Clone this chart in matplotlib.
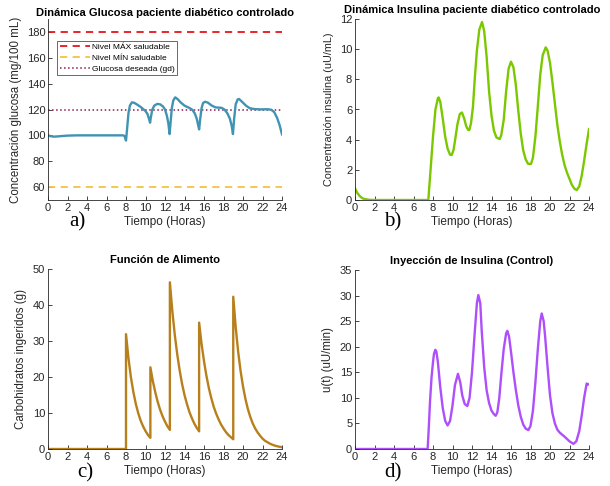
import matplotlib
matplotlib.use("Agg")
import matplotlib.pyplot as plt

plt.rcParams['font.family'] = ['Liberation Sans', 'DejaVu Sans']

# ---------------- data ----------------
t_glu = [0, 0.3, 0.6, 1.0, 1.5, 2.0, 3.0, 5.0, 7.7, 7.85, 8.0, 8.1, 8.25, 8.4, 8.6, 8.8, 9.0, 9.5,
         10.0, 10.2, 10.35, 10.47, 10.55, 10.7, 10.9, 11.2, 11.5, 11.8, 12.0, 12.2, 12.35, 12.47,
         12.55, 12.7, 12.85, 13.05, 13.3, 13.6, 14.0, 14.5, 14.8, 15.05, 15.25, 15.4, 15.5, 15.6,
         15.75, 15.9, 16.1, 16.4, 16.8, 17.2, 17.8, 18.1, 18.4, 18.65, 18.85, 18.97, 19.08, 19.25,
         19.45, 19.6, 19.9, 20.3, 20.7, 21.2, 21.8, 22.5, 22.9, 23.2, 23.5, 23.75, 24.0]
glu = [100, 99.3, 99.0, 99.2, 99.5, 99.8, 100, 100, 100, 99.5, 96, 104, 117, 123, 125.5, 125.3, 124.5, 122,
       118.8, 116.5, 113, 109.8, 114, 120, 123, 124.3, 124, 122.3, 120, 115, 109, 101,
       108, 121, 127, 129.4, 128, 125.5, 123, 121.2, 119.8, 117, 113, 108, 104.6, 112,
       121, 125, 126, 125.3, 123, 121.6, 121.3, 120, 117, 113, 107, 101, 112, 124,
       127.8, 128.1, 126, 123, 121, 120.3, 120.1, 120.2, 119.8, 118, 113.5, 108, 100.8]
glu_max, glu_min, glu_des = 180, 60, 120

t_ins = [0, 0.25, 0.5, 0.75, 1.0, 1.5, 2.0, 7.52, 7.75, 8.0, 8.25, 8.5, 8.58, 8.75, 9.0, 9.25, 9.5,
         9.75, 9.91, 10.1, 10.25, 10.5, 10.75, 10.97, 11.2, 11.4, 11.6, 11.73, 11.9, 12.1, 12.3, 12.5,
         12.75, 13.03, 13.25, 13.5, 13.75, 14.0, 14.25, 14.5, 14.84, 15.0, 15.25, 15.5, 15.75, 16.0,
         16.25, 16.5, 16.75, 17.0, 17.25, 17.5, 17.75, 18.05, 18.25, 18.5, 18.75, 19.0, 19.25, 19.56,
         19.75, 20.0, 20.25, 20.5, 20.75, 21.0, 21.25, 21.5, 21.75, 22.0, 22.25, 22.5, 22.74, 23.0,
         23.25, 23.5, 23.75, 24.0]
ins = [0.77, 0.45, 0.25, 0.12, 0.06, 0.01, 0, 0, 2.0, 4.2, 6.0, 6.75, 6.8, 6.5, 5.4, 4.2, 3.4,
       3.0, 2.98, 3.3, 3.9, 5.0, 5.7, 5.8, 5.4, 4.9, 4.65, 4.64, 5.1, 6.2, 8.2, 9.9,
       11.3, 11.8, 11.2, 9.5, 7.2, 5.6, 4.6, 4.15, 4.04, 4.3, 5.3, 7.2, 8.7, 9.17,
       8.8, 7.6, 5.9, 4.4, 3.3, 2.7, 2.4, 2.39, 2.8, 4.2, 6.2, 8.3, 9.6, 10.12,
       9.9, 9.1, 7.8, 6.4, 5.0, 3.9, 3.0, 2.3, 1.8, 1.4, 1.0, 0.75, 0.66, 0.9,
       1.6, 2.6, 3.7, 4.7]

t_food = [0, 8.0, 8.0, 8.25, 8.5, 8.75, 9.0, 9.25, 9.5, 9.75, 10.0, 10.25, 10.5,
          10.5, 10.75, 11.0, 11.25, 11.5, 11.75, 12.0, 12.25, 12.5,
          12.5, 12.75, 13.0, 13.25, 13.5, 13.75, 14.0, 14.25, 14.5, 14.75, 15.0, 15.25, 15.5,
          15.5, 15.75, 16.0, 16.25, 16.5, 16.75, 17.0, 17.25, 17.5, 17.75, 18.0, 18.25, 18.5, 18.75, 19.0,
          19.0, 19.25, 19.5, 19.75, 20.0, 20.25, 20.5, 20.75, 21.0, 21.25, 21.5, 21.75, 22.0, 22.25,
          22.5, 22.75, 23.0, 23.25, 23.5, 23.75, 24.0]
food = [0, 0, 31.9, 25.3, 20.0, 15.9, 12.6, 10.0, 7.9, 6.3, 5.0, 3.9, 3.1,
        22.7, 18.9, 15.8, 13.1, 10.9, 9.1, 7.6, 6.3, 5.3,
        46.3, 38.4, 31.8, 26.4, 21.9, 18.1, 15.0, 12.5, 10.3, 8.6, 7.1, 5.9, 4.9,
        35.1, 29.2, 24.4, 20.3, 16.9, 14.1, 11.7, 9.8, 8.2, 6.8, 5.7, 4.7, 3.9, 3.3, 2.7,
        42.3, 33.9, 27.1, 21.7, 17.4, 13.9, 11.1, 8.9, 7.1, 5.7, 4.6, 3.7, 2.9, 2.3,
        1.9, 1.5, 1.2, 0.96, 0.77, 0.62, 0.49]

t_u = [0, 7.45, 7.55, 7.7, 7.85, 8.0, 8.1, 8.24, 8.35, 8.5, 8.75, 9.0, 9.25, 9.5, 9.75, 10.0, 10.25,
       10.56, 10.8, 11.0, 11.25, 11.52, 11.75, 12.0, 12.25, 12.5, 12.65, 12.85, 13.0, 13.25, 13.5,
       13.75, 14.0, 14.25, 14.43, 14.6, 14.8, 15.0, 15.25, 15.5, 15.62, 15.8, 16.0, 16.25, 16.5,
       16.75, 17.0, 17.25, 17.5, 17.78, 18.0, 18.25, 18.5, 18.75, 19.0, 19.15, 19.35, 19.5, 19.75,
       20.0, 20.25, 20.5, 20.75, 21.0, 21.5, 22.0, 22.4, 22.7, 23.0, 23.25, 23.5, 23.76, 23.9, 24.0]
u = [0, 0, 3.5, 9.5, 14.0, 17.0, 18.6, 19.4, 19.0, 17.0, 12.0, 8.0, 5.5, 4.6, 5.5, 8.5, 12.5,
     14.7, 13.0, 10.5, 8.8, 8.4, 10.0, 15.0, 22.0, 28.5, 30.1, 28.5, 23.0, 16.0, 11.5,
     9.0, 7.5, 6.8, 6.5, 7.2, 10.0, 14.5, 19.5, 22.6, 23.1, 22.0, 19.0, 15.0, 11.5,
     8.5, 6.3, 4.8, 4.0, 3.7, 4.5, 7.5, 13.0, 19.5, 25.0, 26.5, 25.0, 22.0, 16.0,
     10.5, 7.0, 5.0, 3.8, 3.2, 2.4, 1.5, 1.0, 1.5, 3.5, 6.5, 10.0, 12.8, 12.6, 12.7]

hours = list(range(0, 25, 2))

# ---------------- figure ----------------
fig = plt.figure(figsize=(6.1, 4.86), dpi=100)

W = 234 / 610
pos = {
    'a': [48 / 610, 1 - 200 / 486, W, 181 / 486],
    'b': [355 / 610, 1 - 200 / 486, W, 181 / 486],
    'c': [48 / 610, 1 - 449 / 486, W, 180 / 486],
    'd': [355 / 610, 1 - 449 / 486, W, 179 / 486],
}

tick_col = '#262626'


def style(ax, ylim, yticks):
    ax.set_xlim(0, 24)
    ax.set_ylim(*ylim)
    ax.set_xticks(hours)
    ax.set_yticks(yticks)
    for s in ['top', 'right']:
        ax.spines[s].set_visible(False)
    for s in ['left', 'bottom']:
        ax.spines[s].set_color(tick_col)
        ax.spines[s].set_linewidth(0.6)
    ax.tick_params(direction='in', length=3, width=0.6, labelsize=8,
                   colors=tick_col, pad=2)
    ax.set_xlabel('Tiempo (Horas)', fontsize=8.5, color=tick_col, labelpad=2)


# a) glucose
axa = fig.add_axes(pos['a'])
axa.plot([0, 24], [glu_max, glu_max], '--', color='#e8121a', lw=1.3, dashes=(4, 3),
         label='Nivel MÁX saludable')
axa.plot([0, 24], [glu_min, glu_min], '--', color='#f5c343', lw=1.3, dashes=(4, 3),
         label='Nivel MÍN saludable')
axa.plot([0, 24], [glu_des, glu_des], ':', color='#8c1a50', lw=1.1,
         label='Glucosa deseada (gd)')
axa.plot(t_glu, glu, color='#4094b3', lw=1.7)
style(axa, (50, 190), [60, 80, 100, 120, 140, 160, 180])
axa.set_ylabel('Concentración glucosa (mg/100 mL)', fontsize=8.3, color=tick_col, labelpad=3)
axa.set_title('Dinámica Glucosa paciente diabético controlado', fontsize=8, fontweight='bold', pad=2)
leg = axa.legend(loc='upper left', bbox_to_anchor=(0.04, 0.88), fontsize=6, frameon=True,
                 fancybox=False, edgecolor='#262626', handlelength=3.6, handletextpad=0.2,
                 borderpad=0.3, labelspacing=0.35, borderaxespad=0)
leg.get_frame().set_linewidth(0.6)

# b) insulin
axb = fig.add_axes(pos['b'])
axb.plot(t_ins, ins, color='#7bc800', lw=1.7)
style(axb, (0, 12), [0, 2, 4, 6, 8, 10, 12])
axb.set_ylabel('Concentración insulina (uU/mL)', fontsize=7.8, color=tick_col, labelpad=4)
axb.set_title('Dinámica Insulina paciente diabético controlado', fontsize=8, fontweight='bold', pad=4)

# c) food
axc = fig.add_axes(pos['c'])
axc.plot(t_food, food, color='#b8801c', lw=1.7)
style(axc, (0, 50), [0, 10, 20, 30, 40, 50])
axc.set_ylabel('Carbohidratos ingeridos (g)', fontsize=8.3, color=tick_col, labelpad=4)
axc.set_title('Función de Alimento', fontsize=8, fontweight='bold', pad=4)

# d) control
axd = fig.add_axes(pos['d'])
axd.plot(t_u, u, color='#ae4ffb', lw=1.7)
style(axd, (0, 35), [0, 5, 10, 15, 20, 25, 30, 35])
axd.set_ylabel('u(t) (uU/min)', fontsize=8.3, color=tick_col, labelpad=4)
axd.set_title('Inyección de Insulina (Control)', fontsize=8, fontweight='bold', pad=4)

# panel letters
for lab, x, y in [('a)', 69, 222), ('b)', 384, 222), ('c)', 77, 473), ('d)', 384, 473)]:
    fig.text(x / 610, 1 - y / 486, lab, family='Liberation Serif', fontsize=15,
             ha='left', va='center')

fig.savefig('out.png', dpi=100)
